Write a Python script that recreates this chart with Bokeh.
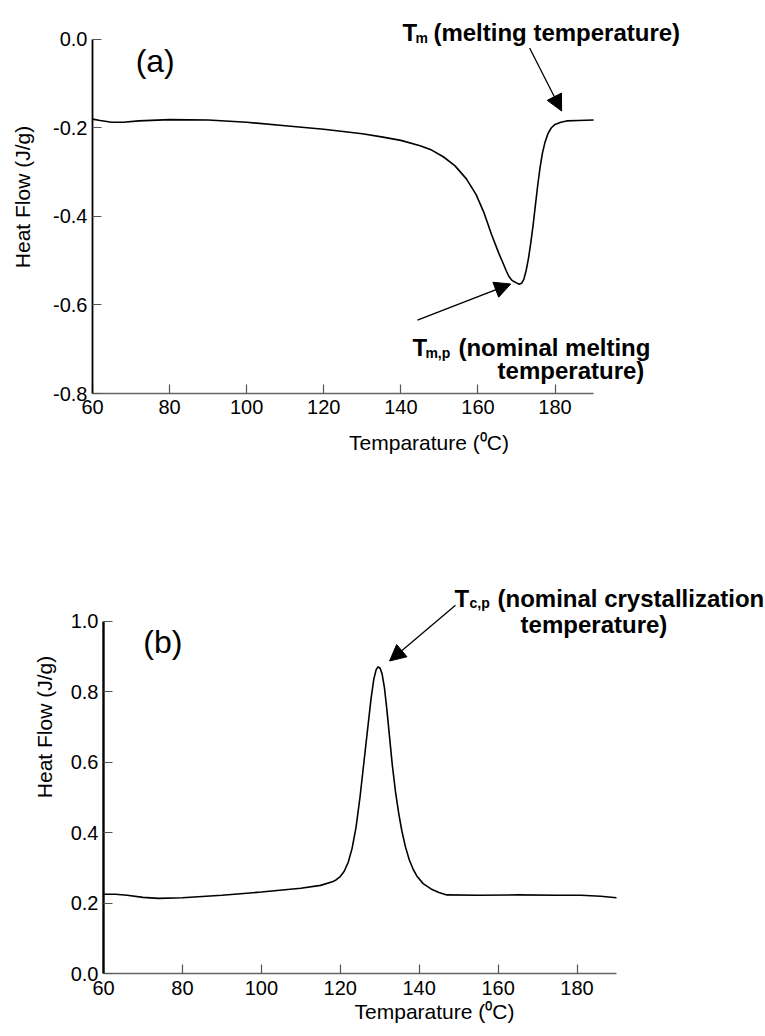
from bokeh.plotting import figure
from bokeh.models import (Label, Arrow, NormalHead, FixedTicker,
                          PrintfTickFormatter, Range1d)
from bokeh.embed import file_html
from bokeh.resources import INLINE

# ---------------- data ----------------
melt_temp = [60, 62, 65, 68, 72, 80, 90, 100, 110, 120, 130, 135, 140, 145,
             148, 151, 154, 157, 159.5, 161.5, 163.5, 165.5, 166.5, 167.3,
             168, 168.7, 169.3, 170, 170.7, 171.3, 171.9, 172.5, 173.1, 173.7,
             174.3, 174.9, 175.5, 176.1, 176.7, 177.4, 178.2, 179, 180, 181.5,
             183, 186, 190]
melt_flow = [-0.180, -0.183, -0.187, -0.187, -0.184, -0.181, -0.182, -0.187,
             -0.195, -0.203, -0.213, -0.220, -0.228, -0.240, -0.250, -0.265,
             -0.285, -0.315, -0.350, -0.390, -0.440, -0.485, -0.505, -0.522,
             -0.535, -0.543, -0.547, -0.550, -0.553, -0.551, -0.542, -0.522,
             -0.495, -0.460, -0.420, -0.375, -0.330, -0.290, -0.258, -0.232,
             -0.212, -0.200, -0.192, -0.187, -0.184, -0.183, -0.182]

cryst_temp = [60, 63, 66, 70, 74, 80, 90, 100, 110, 115, 118, 119, 120, 121,
              122, 123, 124, 125, 126, 127, 127.8, 128.5, 129.1, 129.6, 130.1,
              130.6, 131.2, 131.8, 132.5, 133.2, 134, 134.8, 135.6, 136.5,
              137.5, 138.5, 139.5, 141, 143, 145, 147, 155, 165, 175, 181,
              186, 190]
cryst_flow = [0.225, 0.225, 0.222, 0.216, 0.213, 0.215, 0.222, 0.231, 0.242,
              0.250, 0.260, 0.266, 0.275, 0.290, 0.315, 0.355, 0.415, 0.500,
              0.600, 0.700, 0.780, 0.835, 0.862, 0.870, 0.866, 0.850, 0.810,
              0.750, 0.670, 0.590, 0.515, 0.455, 0.405, 0.360, 0.322, 0.295,
              0.275, 0.255, 0.240, 0.230, 0.223, 0.222, 0.223, 0.222, 0.222,
              0.219, 0.215]

x_ticks = [60, 80, 100, 120, 140, 160, 180]
top_y_ticks = [0.0, -0.2, -0.4, -0.6, -0.8]
bot_y_ticks = [0.0, 0.2, 0.4, 0.6, 0.8, 1.0]

x_title = "Temparature (\u2070C)"
y_title = "Heat Flow (J/g)"

FONT = "Liberation Sans"


def style(p, yticks, xbounds, ybounds, x_lab_standoff, x_title_standoff,
          y_title_standoff):
    p.xaxis.ticker = FixedTicker(ticks=x_ticks)
    p.yaxis.ticker = FixedTicker(ticks=yticks)
    p.xaxis.bounds = xbounds
    p.yaxis.bounds = ybounds
    p.xaxis.formatter = PrintfTickFormatter(format="%d")
    p.yaxis.formatter = PrintfTickFormatter(format="%.1f")
    p.xgrid.visible = False
    p.ygrid.visible = False
    p.outline_line_color = None
    for ax in (p.xaxis, p.yaxis):
        ax.major_tick_in = 9
        ax.major_tick_out = 0
        ax.minor_tick_in = 0
        ax.minor_tick_out = 0
        ax.major_tick_line_color = "#555555"
        ax.major_tick_line_width = 1.2
        ax.major_label_text_font = FONT
        ax.major_label_text_font_size = "20px"
        ax.major_label_text_color = "black"
        ax.axis_label_text_font = FONT
        ax.axis_label_text_font_size = "21px"
        ax.axis_label_text_font_style = "normal"
        ax.axis_label_text_color = "black"
    p.xaxis.axis_line_color = "#666666"
    p.xaxis.axis_line_width = 1.5
    p.yaxis.axis_line_color = "black"
    p.yaxis.axis_line_width = 1.8
    p.xaxis.major_label_standoff = x_lab_standoff
    p.yaxis.major_label_standoff = 5
    p.xaxis.axis_label_standoff = x_title_standoff
    p.yaxis.axis_label_standoff = y_title_standoff
    p.background_fill_color = "white"
    p.border_fill_color = "white"


def sub_label(p, x, y, main, sub, rest, sub_dx, rest_dx):
    p.add_layout(Label(x=x, y=y, text=main, text_font=FONT,
                       text_font_size="24px", text_font_style="bold",
                       text_color="black", text_baseline="alphabetic"))
    p.add_layout(Label(x=x, y=y, x_offset=sub_dx, y_offset=-5, text=sub,
                       text_font=FONT, text_font_size="14px",
                       text_font_style="bold", text_color="black",
                       text_baseline="alphabetic"))
    p.add_layout(Label(x=x, y=y, x_offset=rest_dx, text=rest, text_font=FONT,
                       text_font_size="24px", text_font_style="bold",
                       text_color="black", text_baseline="alphabetic"))


def plain_bold(p, x, y, text):
    p.add_layout(Label(x=x, y=y, text=text, text_font=FONT,
                       text_font_size="24px", text_font_style="bold",
                       text_color="black", text_baseline="alphabetic"))


def arrow(p, xs, ys, xe, ye):
    p.add_layout(Arrow(end=NormalHead(size=16, fill_color="black",
                                      line_color="black", line_width=1),
                       x_start=xs, y_start=ys, x_end=xe, y_end=ye,
                       line_color="black", line_width=1.3))


# ---------------- top plot (a) ----------------
p1 = figure(width=765, height=480, output_backend="svg", toolbar_location=None,
            x_range=Range1d(60, 234.6), y_range=Range1d(-0.8, 0.0881),
            min_border_left=92, min_border_right=0, min_border_top=0,
            min_border_bottom=87, x_axis_label=x_title, y_axis_label=y_title)
style(p1, top_y_ticks, (60, 190), (-0.8, 0.0), 6, 14, 16)
p1.line(melt_temp, melt_flow, line_color="black", line_width=1.6)

p1.add_layout(Label(x=71.2, y=-0.049, text="(a)", text_font=FONT,
                    text_font_size="32px", text_color="black",
                    text_baseline="alphabetic"))

sub_label(p1, 140.4, 0.0147, "T", "m", "(melting temperature)", 13, 31)
arrow(p1, 173.4, -0.0192, 181.7, -0.1616)

sub_label(p1, 143.0, -0.697, "T", "m,p", "(nominal melting", 13, 46)
plain_bold(p1, 165.1, -0.749, "temperature)")
arrow(p1, 144.3, -0.634, 168.5, -0.5525)

# ---------------- bottom plot (b) ----------------
p2 = figure(width=765, height=556, output_backend="svg", toolbar_location=None,
            x_range=Range1d(60, 227.76), y_range=Range1d(0.0, 1.3986),
            min_border_left=103, min_border_right=0, min_border_top=0,
            min_border_bottom=63, x_axis_label=x_title, y_axis_label=y_title)
style(p2, bot_y_ticks, (60, 190), (0.0, 1.0), 7, 2, 12)
p2.yaxis.axis_line_width = 2.4
p2.line(cryst_temp, cryst_flow, line_color="black", line_width=1.6)

p2.add_layout(Label(x=70.1, y=0.94, text="(b)", text_font=FONT,
                    text_font_size="32px", text_color="black",
                    text_baseline="alphabetic"))

sub_label(p2, 148.95, 1.065, "T", "c,p", "(nominal crystallization", 15, 43)
plain_bold(p2, 165.7, 0.991, "temperature)")
arrow(p2, 149.2, 1.045, 132.5, 0.8865)

open("out.html", "w").write(file_html([p1, p2], INLINE))
